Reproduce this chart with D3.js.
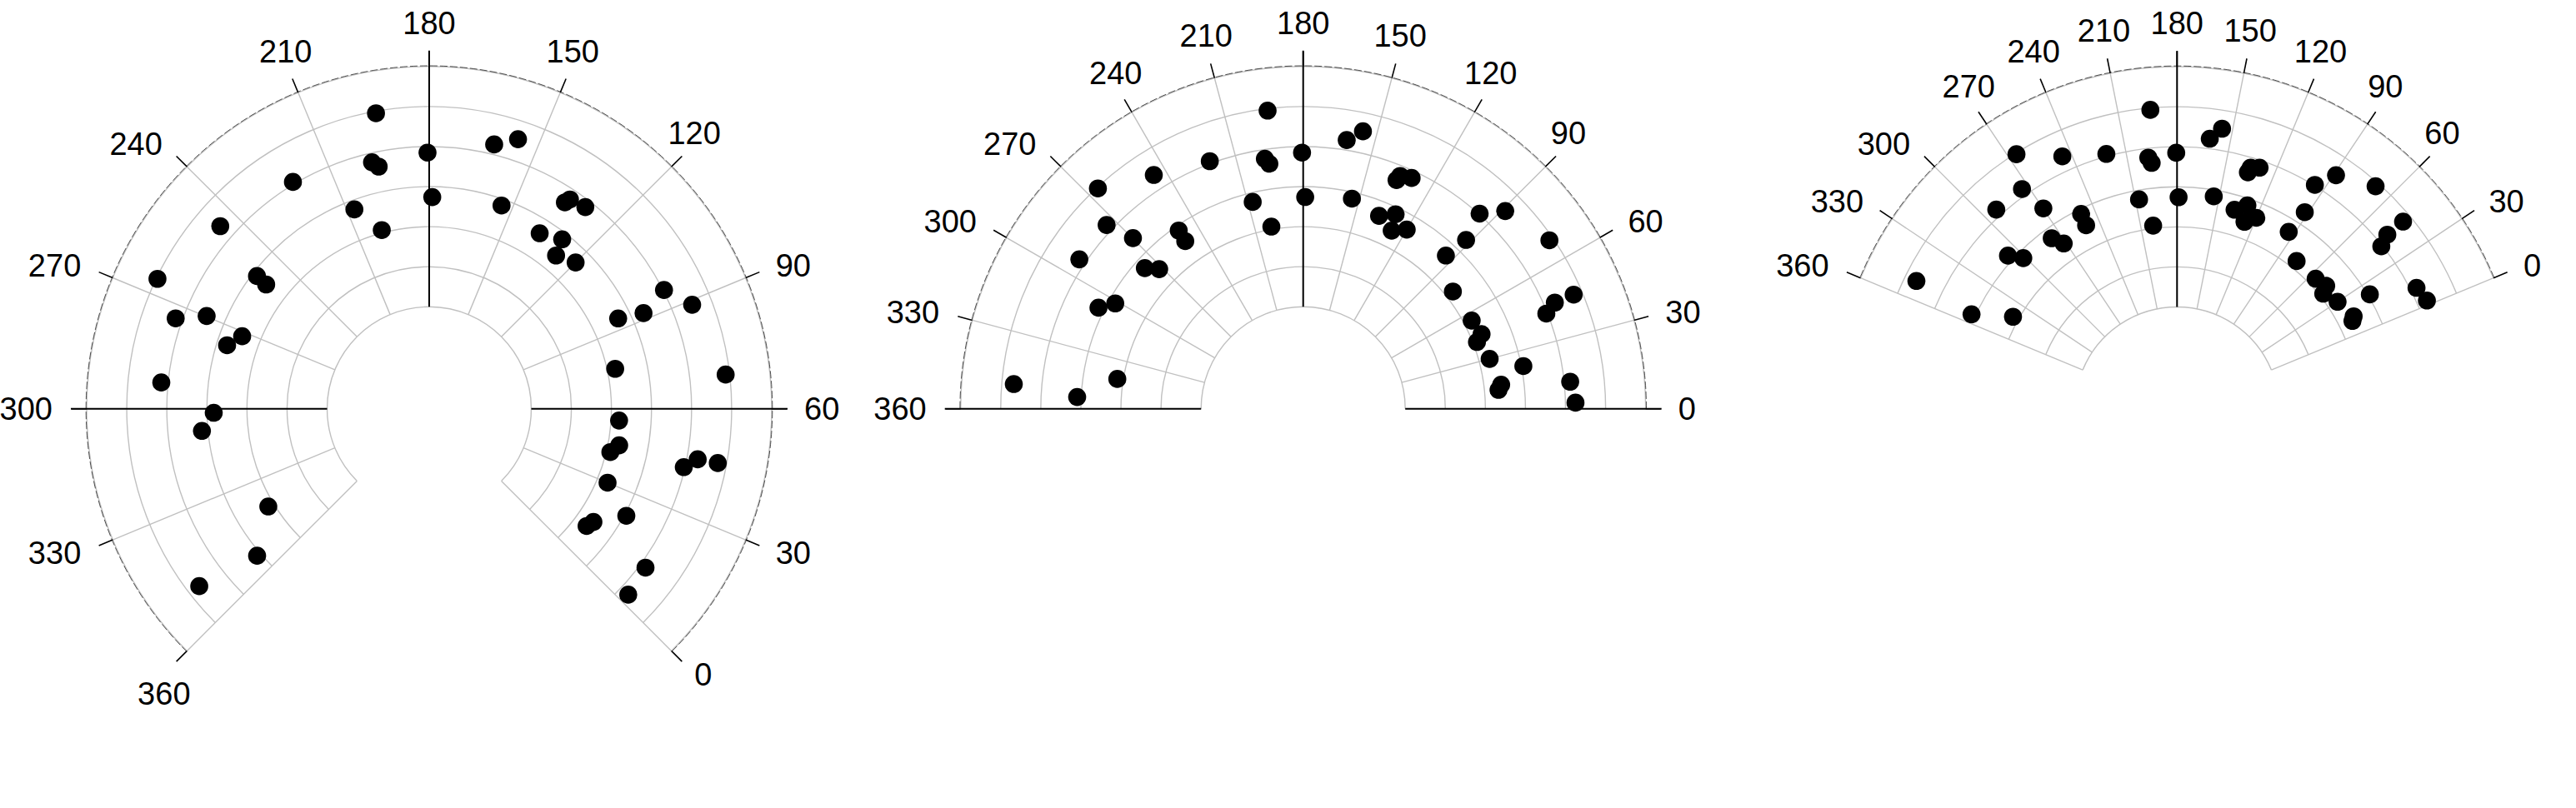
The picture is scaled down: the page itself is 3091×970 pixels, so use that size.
<!DOCTYPE html>
<html><head><meta charset="utf-8">
<script src="https://cdn.jsdelivr.net/npm/d3@7"></script>
<style>html,body{margin:0;padding:0;background:#fff;} svg{display:block;}</style>
</head><body>
<svg id="chart" width="3091" height="970"></svg>
<script>
// Data (angle in 0..360 units, radius in arbitrary 0..60 units)
const angleValues = [193.6,155.7,161.6,180.5,197.4,195.7,221.3,178.9,153.9,135.6,
  134.8,129.7,207.4,199.8,245.1,137.1,129.2,127.2,120.0,265.9,
  249.8,250.2,95.8,88.8,92.1,94.1,273.8,269.8,271.7,276.7,
  76.2,68.8,292.5,301.4,307.4,341.7,354.0,350.2,55.3,45.5,
  42.1,45.8,42.8,45.8,30.0,22.0,11.1,13.9,11.6,2.6];
const radiusValues = [49.5,45.4,42.5,38.5,37.7,36.3,40.6,27.4,28.4,36.2,
  37.5,38.2,27.7,20.7,43.8,26.3,28.3,24.2,26.2,49.7,
  28.8,25.7,40.2,45.1,33.1,26.8,41.7,34.7,24.6,27.4,
  22.0,49.0,41.7,28.3,31.5,21.5,31.0,47.0,22.0,22.8,
  21.0,42.7,39.7,47.8,22.7,30.5,23.5,24.3,41.5,42.5];
const angleTicks = [0,30,60,90,120,150,180,210,240,270,300,330,360];
const radiusTicks = [0,10,20,30,40,50,60];

// Layout of the three panels (same data, different angular spans)
const panels = [
  {cx:515,    cy:490.8, a0:-45,  a1:225,   axes:[60,180,300]},
  {cx:1563.7, cy:490.8, a0:0,    a1:180,   axes:[0,180,360]},
  {cx:2612.3, cy:491,   a0:22.5, a1:157.5, axes:[180]}
];

const rScale = d3.scaleLinear().domain([0,60]).range([122.5,411]);
const svg = d3.select('#chart');
const points = angleValues.map((a,i)=>({a, r: radiusValues[i]}));

panels.forEach(p=>{
  const aScale = d3.scaleLinear().domain([0,360]).range([p.a0,p.a1]);
  const g = svg.append('g').attr('transform',`translate(${p.cx},${p.cy})`);
  const pt = (v,r)=>{const t=aScale(v)*Math.PI/180; return [r*Math.cos(t), -r*Math.sin(t)];};
  const arcPath = r=>{const pa=d3.path(); pa.arc(0,0,r,-p.a0*Math.PI/180,-p.a1*Math.PI/180,true); return pa.toString();};

  // rings
  g.selectAll('path.ring').data(radiusTicks).join('path').attr('class','ring')
    .attr('d',d=>arcPath(rScale(d))).attr('fill','none')
    .attr('stroke','#c0c0c0').attr('stroke-width',1.4);
  // radial grid
  g.selectAll('line.spoke').data(angleTicks).join('line').attr('class','spoke')
    .attr('x1',d=>pt(d,rScale(0))[0]).attr('y1',d=>pt(d,rScale(0))[1])
    .attr('x2',d=>pt(d,rScale(60))[0]).attr('y2',d=>pt(d,rScale(60))[1])
    .attr('stroke','#c0c0c0').attr('stroke-width',1.4);
  // outer thin dark arc
  g.append('path').attr('d',arcPath(rScale(60)+0.8)).attr('fill','none')
    .attr('stroke','#000').attr('stroke-opacity',0.75).attr('stroke-width',0.9)
    .attr('stroke-dasharray','9 3');
  // black axis lines
  g.selectAll('line.axis').data(p.axes).join('line').attr('class','axis')
    .attr('x1',d=>pt(d,rScale(0))[0]).attr('y1',d=>pt(d,rScale(0))[1])
    .attr('x2',d=>pt(d,430)[0]).attr('y2',d=>pt(d,430)[1])
    .attr('stroke','#000').attr('stroke-width',2);
  // ticks
  g.selectAll('line.tick').data(angleTicks).join('line').attr('class','tick')
    .attr('x1',d=>pt(d,rScale(60))[0]).attr('y1',d=>pt(d,rScale(60))[1])
    .attr('x2',d=>pt(d,429)[0]).attr('y2',d=>pt(d,429)[1])
    .attr('stroke','#000').attr('stroke-width',1.6);
  // labels
  angleTicks.forEach(v=>{
    const [ax,ay] = pt(v,450);
    let th = Math.round((((aScale(v)+45)%360)+360)%360*1000)/1000;
    let anchor='middle', x=ax, y=ay;
    if (th<90){anchor='start'; y=ay+13.6;}
    else if (th<180){anchor='middle'; y=ay;}
    else if (th<270){anchor='end'; x=ax-2; y=ay+13.6;}
    else {anchor='middle'; y=ay+36.9;}
    g.append('text').attr('x',x).attr('y',y).attr('text-anchor',anchor)
      .attr('font-family','"Liberation Sans", Arial, sans-serif').attr('font-size',38)
      .attr('fill','#000').text(v);
  });
  // dots
  g.selectAll('circle').data(points).join('circle')
    .attr('cx',d=>pt(d.a,rScale(d.r))[0]).attr('cy',d=>pt(d.a,rScale(d.r))[1])
    .attr('r',10.8).attr('fill','#000');
});
</script>
</body></html>
